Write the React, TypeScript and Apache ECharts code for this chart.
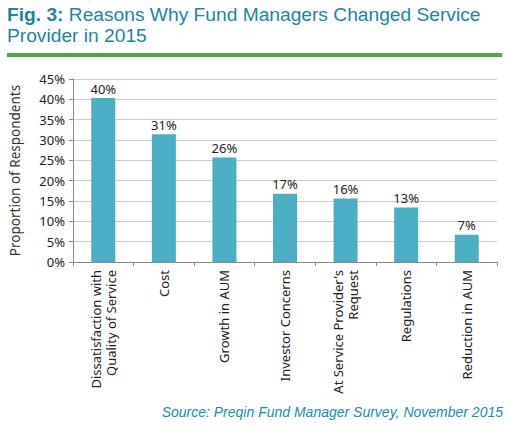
import React, { useEffect, useRef } from "react";
import * as echarts from "echarts";

const categories = [
  "Dissatisfaction with\nQuality of Service",
  "Cost",
  "Growth in AUM",
  "Investor Concerns",
  "At Service Provider's\nRequest",
  "Regulations",
  "Reduction in AUM",
];
const values = [40.3, 31.4, 25.7, 16.8, 15.6, 13.4, 6.7];
const yTicks = { min: 0, max: 45, interval: 5 };
const titleBold = "Fig. 3:";
const titleLine1 = " Reasons Why Fund Managers Changed Service";
const titleLine2 = "Provider in 2015";
const sourceText = "Source: Preqin Fund Manager Survey, November 2015";
const yAxisName = "Proportion of Respondents";

export default function App() {
  const ref = useRef<HTMLDivElement>(null);
  useEffect(() => {
    const chart = echarts.init(ref.current!, null, { renderer: "svg" });
    const font = "'Noto Sans', sans-serif";
    const tfont = "'Liberation Sans', Arial, sans-serif";
    const titleColor = "#1c85a3";
    const tsize = 19.2;
    chart.setOption({
      animation: false,
      backgroundColor: "#ffffff",
      graphic: [
        {
          type: "text",
          left: 7,
          top: 5,
          style: {
            text: `{b|${titleBold}}{n|${titleLine1}}`,
            rich: {
              b: { fontFamily: tfont, fontSize: tsize, fontWeight: "bold", fill: titleColor, lineHeight: 20 },
              n: { fontFamily: tfont, fontSize: tsize, fontWeight: "normal", fill: titleColor, lineHeight: 20 },
            },
          },
        },
        {
          type: "text",
          left: 7,
          top: 26,
          style: {
            text: `{n|${titleLine2}}`,
            rich: {
              n: { fontFamily: tfont, fontSize: tsize, fontWeight: "normal", fill: titleColor, lineHeight: 20 },
            },
          },
        },
        {
          type: "rect",
          shape: { x: 7, y: 53, width: 495, height: 4 },
          style: { fill: "#4ea84b" },
        },
        {
          type: "text",
          right: 6,
          top: 405,
          style: {
            text: sourceText,
            font: "italic 14px 'Liberation Sans', Arial, sans-serif",
            fill: "#1a8db0",
          },
        },
      ],
      grid: { left: 71, right: 12, top: 79, bottom: 165, containLabel: false },
      xAxis: {
        type: "category",
        data: categories,
        axisLine: { lineStyle: { color: "#888888" } },
        axisTick: { show: true, alignWithLabel: false, length: 4, lineStyle: { color: "#888888" } },
        axisLabel: {
          rotate: 90,
          interval: 0,
          color: "#222222",
          fontFamily: font,
          fontSize: 13,
          lineHeight: 15,
          margin: 8,
        },
      },
      yAxis: {
        type: "value",
        min: yTicks.min,
        max: yTicks.max,
        interval: yTicks.interval,
        name: yAxisName,
        nameLocation: "middle",
        nameRotate: 90,
        nameGap: 51,
        nameTextStyle: { color: "#333333", fontFamily: font, fontSize: 13.5 },
        axisLine: { show: true, lineStyle: { color: "#888888" } },
        axisTick: { show: true, length: 4, lineStyle: { color: "#888888" } },
        splitLine: { lineStyle: { color: "#cccccc" } },
        axisLabel: {
          color: "#222222",
          fontFamily: font,
          fontSize: 13,
          margin: 8,
          formatter: (v: number) => `${v}%`,
        },
      },
      series: [
        {
          type: "bar",
          data: values,
          barWidth: 24,
          itemStyle: { color: "#4aaec5" },
          label: {
            show: true,
            position: "top",
            distance: 3,
            color: "#222222",
            fontFamily: font,
            fontSize: 13,
            formatter: (p: any) => `${Math.round(p.value)}%`,
          },
        },
      ],
    });
    return () => chart.dispose();
  }, []);
  return (
    <div
      ref={ref}
      style={{ position: "absolute", left: 0, top: 0, width: 509, height: 427 }}
    />
  );
}
